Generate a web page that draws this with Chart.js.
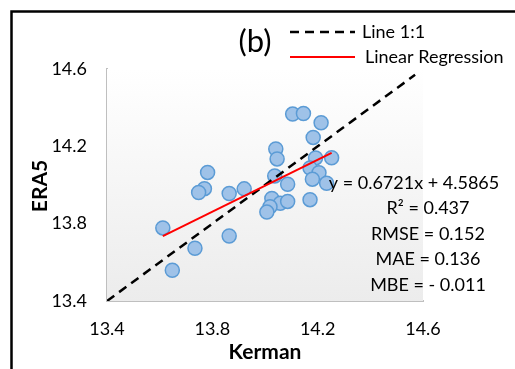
<!DOCTYPE html>
<html>
<head>
<meta charset="utf-8">
<script src="https://cdn.jsdelivr.net/npm/chart.js@4"></script>
<style>
  body { margin: 0; background: #fff; }
  canvas { display: block; }
</style>
</head>
<body>
<canvas id="chart" width="515" height="369"></canvas>
<script>
// station observations (Kerman) vs reanalysis (ERA5)
const kerman = [14.105, 14.146, 14.213, 14.183, 14.041, 14.046, 14.192, 14.253, 14.171, 14.205,
                14.180, 14.234, 14.037, 14.086, 13.782, 13.770, 13.748, 13.864, 13.921, 14.026,
                14.058, 14.086, 14.019, 14.007, 14.171, 13.612, 13.864, 13.734, 13.648];
const era5 = [14.367, 14.370, 14.322, 14.246, 14.186, 14.135, 14.140, 14.141, 14.088, 14.064,
              14.030, 14.009, 14.047, 14.004, 14.065, 13.981, 13.961, 13.956, 13.980, 13.930,
              13.905, 13.915, 13.888, 13.860, 13.924, 13.778, 13.736, 13.673, 13.559];

const oneToOne = [13.4, 14.57];
const slope = 0.6721;
const intercept = 4.5865;
const tickValues = [13.4, 13.8, 14.2, 14.6];
const statLines = ["y = 0.6721x + 4.5865", "R² = 0.437", "RMSE = 0.152", "MAE = 0.136", "MBE = - 0.011"];

const font = "Lato";
const canvas = document.getElementById("chart");

const points = kerman.map((k, i) => ({ x: k, y: era5[i] }));
const xMin = Math.min(...kerman);
const xMax = Math.max(...kerman);
const regLine = [xMin, xMax].map(x => ({ x: x, y: slope * x + intercept }));
const diagLine = oneToOne.map(v => ({ x: v, y: v }));

// plot area shading + frame + legend + stats text
const decor = {
  id: "decor",
  beforeDatasetsDraw(chart) {
    const { ctx, chartArea: a } = chart;
    const g = ctx.createLinearGradient(0, a.top, 0, a.bottom);
    g.addColorStop(0, "#ffffff");
    g.addColorStop(1, "#ececec");
    ctx.save();
    ctx.fillStyle = g;
    ctx.fillRect(a.left, a.top, a.right - a.left, a.bottom - a.top);
    ctx.restore();
  },
  afterDraw(chart) {
    const ctx = chart.ctx;
    ctx.save();
    // outer frame
    ctx.strokeStyle = "#000";
    ctx.lineWidth = 2.5;
    ctx.beginPath();
    ctx.moveTo(11.5, 369);
    ctx.lineTo(11.5, 11.5);
    ctx.lineTo(515, 11.5);
    ctx.stroke();

    ctx.fillStyle = "#000";
    ctx.textBaseline = "middle";
    ctx.textAlign = "center";
    ctx.font = "31px " + font;
    ctx.fillText("(b)", 255, 42);

    // legend
    ctx.lineWidth = 2.5;
    ctx.setLineDash([9, 6]);
    ctx.beginPath();
    ctx.moveTo(290, 32);
    ctx.lineTo(355, 32);
    ctx.stroke();
    ctx.setLineDash([]);
    ctx.strokeStyle = "#ff0000";
    ctx.lineWidth = 2;
    ctx.beginPath();
    ctx.moveTo(290, 57);
    ctx.lineTo(355, 57);
    ctx.stroke();
    ctx.textAlign = "left";
    ctx.font = "18px " + font;
    ctx.fillText("Line 1:1", 362, 32);
    ctx.fillText("Linear Regression", 365, 57);

    // stats
    ctx.textAlign = "center";
    ctx.fillText(statLines[0], 414, 183);
    for (let i = 1; i < statLines.length; i++) {
      ctx.fillText(statLines[i], 428, 183 + i * 25.5);
    }

    // axis titles
    ctx.font = "bold 21px " + font;
    ctx.fillText("Kerman", 265, 352);
    ctx.translate(40, 186);
    ctx.rotate(-Math.PI / 2);
    ctx.fillText("ERA5", 0, 0);
    ctx.restore();
  }
};

const axis = (fit) => ({
  type: "linear",
  min: tickValues[0],
  max: tickValues[tickValues.length - 1],
  afterBuildTicks: s => { s.ticks = tickValues.map(v => ({ value: v })); },
  afterFit: fit,
  grid: { display: false, drawTicks: false },
  border: { display: true, color: "#bfbfbf", width: 2 },
  ticks: {
    color: "#000",
    font: { family: font, size: 18 },
    callback: v => v.toFixed(1)
  }
});

const xAxis = axis(s => { s.height = 369 - 301; });
xAxis.ticks.padding = 17;
const yAxis = axis(s => { s.width = 107; });
yAxis.ticks.padding = 20;

const chart = new Chart(canvas, {
  type: "scatter",
  data: {
    datasets: [
      {
        label: "Linear Regression",
        data: regLine,
        showLine: true,
        borderColor: "#ff0000",
        borderWidth: 2,
        pointRadius: 0,
        order: 1
      },
      {
        label: "Line 1:1",
        data: diagLine,
        showLine: true,
        borderColor: "#000",
        borderWidth: 2.5,
        borderDash: [9, 6],
        pointRadius: 0,
        order: 2
      },
      {
        label: "Kerman",
        data: points,
        backgroundColor: "#9fc2e8",
        borderColor: "#5b9bd5",
        borderWidth: 1.5,
        pointRadius: 7,
        order: 3
      }
    ]
  },
  options: {
    responsive: false,
    devicePixelRatio: 1,
    animation: false,
    layout: { padding: { left: 0, top: 69, right: 92, bottom: 0 } },
    plugins: { legend: { display: false }, tooltip: { enabled: false } },
    scales: { x: xAxis, y: yAxis }
  },
  plugins: [decor]
});
</script>
</body>
</html>
